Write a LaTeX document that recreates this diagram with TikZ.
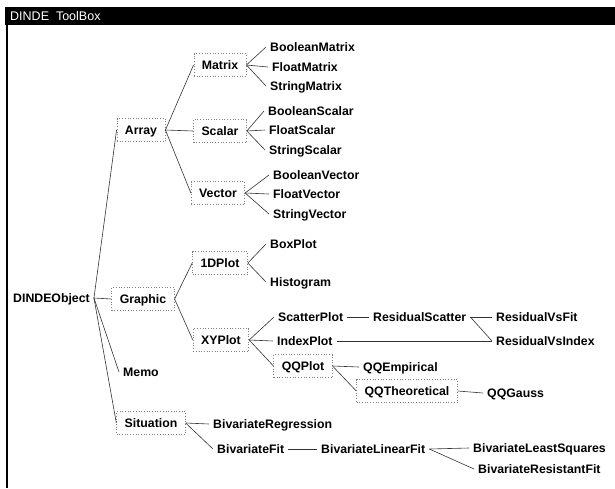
\documentclass[tikz,border=0pt]{standalone}
\usepackage{fontspec}
\setmainfont{Liberation Sans}
\begin{document}
\begin{tikzpicture}[x=1pt,y=-1pt,
  lbl/.style={anchor=west,inner xsep=4pt,inner ysep=1pt,text height=8.8pt,text depth=0pt,
    font=\bfseries\fontsize{12.3}{14}\selectfont},
  cls/.style={inner xsep=8pt,inner ysep=0pt,minimum height=23pt,text height=8.8pt,text depth=0pt,
    draw=black!50,dotted,line width=0.7pt,font=\bfseries\fontsize{12.3}{14}\selectfont},
  link/.style={draw=black!80,line width=0.6pt}]
\useasboundingbox (0,0) rectangle (615,488);

% window frame
\fill[black] (5,7) rectangle (615,25);
\draw[line width=2pt] (7,25) -- (7,488);
\node[anchor=west,inner sep=0pt,text=white,font=\fontsize{12.5}{14}\selectfont] (title) at (10,16) {DINDE\ \ ToolBox};

% root
\node[lbl] (root) at (9,298) {DINDEObject};

% first level
\node[cls] (array) at (141,130) {Array};
\node[cls] (graphic) at (143,299) {Graphic};
\node[lbl] (memo) at (119,372) {Memo};
\node[cls] (situation) at (151,423) {Situation};

% arrays
\node[cls] (matrix) at (220,65) {Matrix};
\node[cls] (scalar) at (220,131) {Scalar};
\node[cls] (vector) at (218,193) {Vector};
\node[lbl] (bm) at (266,47) {BooleanMatrix};
\node[lbl] (fm) at (268,67) {FloatMatrix};
\node[lbl] (sm) at (266,86) {StringMatrix};
\node[lbl] (bs) at (264,111) {BooleanScalar};
\node[lbl] (fs) at (265,130) {FloatScalar};
\node[lbl] (ss) at (265,150) {StringScalar};
\node[lbl] (bv) at (269,175) {BooleanVector};
\node[lbl] (fv) at (269,194) {FloatVector};
\node[lbl] (sv) at (269,214) {StringVector};

% graphics
\node[cls] (oned) at (220,263) {1DPlot};
\node[cls] (xy) at (221,340) {XYPlot};
\node[lbl] (box) at (266,244) {BoxPlot};
\node[lbl] (hist) at (266,282) {Histogram};
\node[lbl] (scatter) at (274,317) {ScatterPlot};
\node[lbl] (rscatter) at (369,317) {ResidualScatter};
\node[lbl] (rvfit) at (492,317) {ResidualVsFit};
\node[lbl] (index) at (273,341) {IndexPlot};
\node[lbl] (rvindex) at (492,341) {ResidualVsIndex};
\node[cls] (qq) at (303,366) {QQPlot};
\node[lbl] (qqe) at (359,367) {QQEmpirical};
\node[cls] (qqt) at (407,391) {QQTheoretical};
\node[lbl] (qqg) at (483,393) {QQGauss};

% situations
\node[lbl] (breg) at (209,424) {BivariateRegression};
\node[lbl] (bfit) at (213,449) {BivariateFit};
\node[lbl] (blin) at (317,449) {BivariateLinearFit};
\node[lbl] (bls) at (469,448) {BivariateLeastSquares};
\node[lbl] (bres) at (474,469) {BivariateResistantFit};

% connectors
\foreach \a/\b in {root/array,root/graphic,root/memo,root/situation,
  array/matrix,array/scalar,array/vector,
  matrix/bm,matrix/fm,matrix/sm,scalar/bs,scalar/fs,scalar/ss,vector/bv,vector/fv,vector/sv,
  graphic/oned,graphic/xy,oned/box,oned/hist,
  xy/scatter,xy/index,xy/qq,scatter/rscatter,rscatter/rvfit,rscatter/rvindex,index/rvindex,
  qq/qqe,qq/qqt,qqt/qqg,
  situation/breg,situation/bfit,bfit/blin,blin/bls,blin/bres}
  \draw[link] (\a.east) -- (\b.west);
\end{tikzpicture}
\end{document}
